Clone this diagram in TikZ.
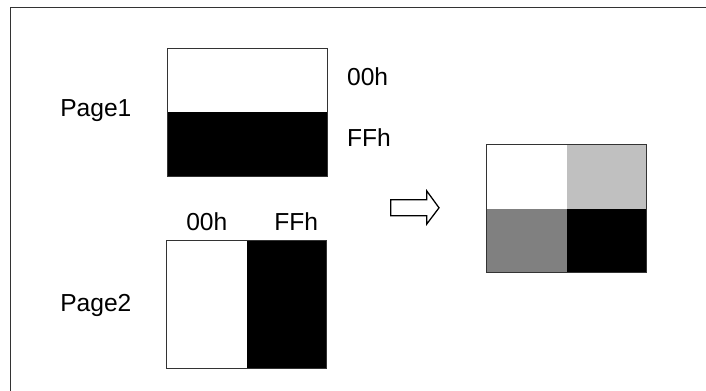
\documentclass[tikz,border=0pt]{standalone}
\usepackage{fontspec}
\setmainfont{Liberation Sans}
\usepackage{tikz}
\definecolor{Ink}{HTML}{000000}
\definecolor{Edge}{HTML}{333333}
\definecolor{Silver}{HTML}{C0C0C0}
\definecolor{MidGray}{HTML}{808080}
\tikzset{
  cell/.style={inner sep=0pt,outer sep=0pt,minimum width=2cm,minimum height=1.6cm},
  wide/.style={cell,minimum width=4cm},
  tall/.style={cell,minimum height=3.2cm},
  boxline/.style={draw=Edge,line width=0.6pt},
  tag/.style={inner sep=0pt,anchor=base west,text=Ink},
  blockArrow/.style={draw=Ink,line width=0.9pt,fill=white,line join=miter}
}
\begin{document}
\begin{tikzpicture}[x=1cm,y=1cm,font=\fontsize{17.5}{20}\selectfont]
  \useasboundingbox (0,0) rectangle (17.65,9.75);
  \draw[line width=1.1pt,draw=Edge] (0.2575,-1) rectangle (18.5,9.5575);
  % page 1: horizontal split
  \node[wide,fill=white] (p1top) at (6.175,7.74) {};
  \node[wide,fill=Ink,anchor=north] (p1bot) at (p1top.south) {};
  \draw[boxline] (p1top.north west) rectangle (p1bot.south east);
  \node[tag] (p1name) at (1.5,6.83) {Page1};
  \node[tag] (p1a) at (8.67,7.625) {00h};
  \node[tag] (p1b) at (8.67,6.08) {FFh};
  % page 2: vertical split
  \node[tall,fill=white] (p2left) at (5.17,2.13) {};
  \node[tall,fill=Ink,anchor=west] (p2right) at (p2left.east) {};
  \draw[boxline] (p2left.north west) rectangle (p2right.south east);
  \node[tag] (p2name) at (1.5,1.96) {Page2};
  \node[tag] (p2a) at (4.65,4.0) {00h};
  \node[tag] (p2b) at (6.85,4.0) {FFh};
  % result
  \coordinate (conv) at (9.77,4.555);
  \draw[blockArrow] (conv) ++(0,0.2) -- ++(0.9,0) -- ++(0,0.22) -- ++(0.305,-0.42) -- ++(-0.305,-0.405)
    -- ++(0,0.205) -- ++(-0.9,0) -- cycle;
  \node[cell,fill=white] (q1) at (13.17,5.33) {};
  \node[cell,fill=Silver,anchor=west] (q2) at (q1.east) {};
  \node[cell,fill=MidGray,anchor=north] (q3) at (q1.south) {};
  \node[cell,fill=Ink,anchor=west] (q4) at (q3.east) {};
  \draw[boxline] (q1.north west) rectangle (q4.south east);
\end{tikzpicture}
\end{document}
